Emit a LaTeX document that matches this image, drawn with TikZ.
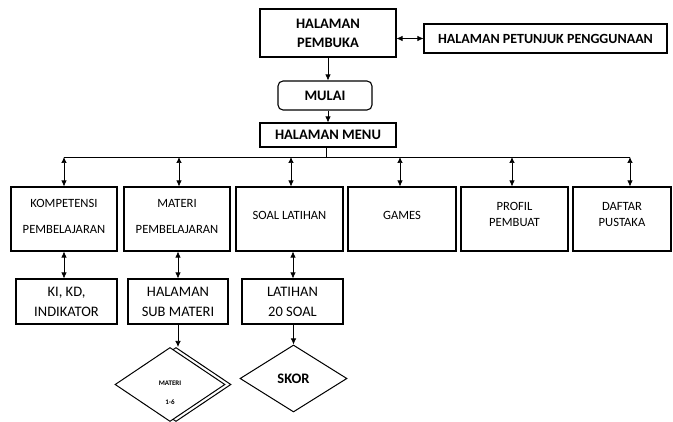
\documentclass[tikz,border=0pt]{standalone}
\usepackage{fontspec}
\setmainfont{Carlito}
\usetikzlibrary{arrows.meta,shapes.geometric}
\tikzset{
  box/.style={draw,line width=1.1pt,inner sep=0pt,align=center},
  topfont/.style={font=\fontsize{14.5}{19}\selectfont\bfseries},
  midfont/.style={font=\fontsize{12.6}{26}\selectfont},
  midfonttight/.style={font=\fontsize{12.6}{16}\selectfont},
  lowfont/.style={font=\fontsize{14.5}{20}\selectfont},
  conn/.style={line width=0.7pt,-{Latex[length=6pt,width=5.5pt]}},
  dconn/.style={line width=0.7pt,{Latex[length=6pt,width=5.5pt]}-{Latex[length=6pt,width=5.5pt]}},
  dia/.style={draw,line width=1pt,diamond,inner sep=0pt,aspect=1.5,align=center}
}
\begin{document}
\begin{tikzpicture}[x=1pt,y=-1pt]
\useasboundingbox (0,0) rectangle (673,422);
% top level
\node[box,topfont,minimum width=136pt,minimum height=48pt] (pembuka) at (328,33) {HALAMAN\\PEMBUKA};
\node[box,font=\fontsize{14}{19}\selectfont\bfseries,minimum width=243pt,minimum height=29pt] (petunjuk) at (545.5,38.5) {HALAMAN PETUNJUK PENGGUNAAN};
\node[box,topfont,rounded corners=5pt,minimum width=94pt,minimum height=29pt] (mulai) at (325,95.5) {MULAI};
\node[box,topfont,minimum width=136pt,minimum height=24pt] (menu) at (328,135) {HALAMAN MENU};
% level 2
\node[box,midfont,minimum width=106pt,minimum height=64pt,text depth=5pt] (k1) at (64,219) {KOMPETENSI\\PEMBELAJARAN};
\node[box,midfont,minimum width=106pt,minimum height=64pt,text depth=5pt] (k2) at (177,219) {MATERI\\PEMBELAJARAN};
\node[box,midfont,minimum width=107pt,minimum height=64pt,text depth=8pt] (k3) at (289.5,219) {SOAL LATIHAN};
\node[box,midfont,minimum width=108pt,minimum height=64pt,text depth=8pt] (k4) at (402,219) {GAMES};
\node[box,midfonttight,minimum width=107pt,minimum height=64pt,text depth=10pt] (k5) at (514.5,219) {PROFIL\\PEMBUAT};
\node[box,midfonttight,minimum width=98pt,minimum height=64pt,text depth=10pt] (k6) at (622,219) {DAFTAR\\PUSTAKA};
% level 3
\node[box,lowfont,minimum width=101pt,minimum height=45pt] (l1) at (66.5,301.5) {KI, KD,\\INDIKATOR};
\node[box,lowfont,minimum width=100pt,minimum height=45pt] (l2) at (178,301.5) {HALAMAN\\SUB MATERI};
\node[box,lowfont,minimum width=101pt,minimum height=45pt] (l3) at (292.5,301.5) {LATIHAN\\20 SOAL};
% diamonds
\node[dia,minimum width=110pt,minimum height=74pt] (d1b) at (176,384.5) {};
\node[dia,fill=white,minimum width=110pt,minimum height=74pt,font=\fontsize{7}{16}\selectfont\bfseries] (d1) at (170,384.5) {\parbox[c][40pt][b]{30pt}{\centering MATERI\\[3pt]1-6}};
\node[dia,minimum width=107pt,minimum height=67pt,font=\fontsize{14.5}{16}\selectfont\bfseries] (d2) at (293.5,378.5) {SKOR};
% connectors top
\draw[dconn] (pembuka.east |- petunjuk.west) -- (petunjuk.west);
\draw[conn] (pembuka.south) -- (pembuka.south |- mulai.north);
\draw[conn] (mulai.south -| menu.north) -- (menu.north);
% bus
\coordinate (bus) at (326,157);
\coordinate (b1) at (64,157);
\coordinate (b2) at (179,157);
\coordinate (b3) at (291,157);
\coordinate (b4) at (400,157);
\coordinate (b5) at (512,157);
\coordinate (b6) at (630,157);
\draw[line width=0.7pt] (menu.south -| bus) -- (bus);
\draw[line width=0.7pt] (b1) -- (b6);
\foreach \i in {1,...,6}{
  \draw[dconn] (b\i) -- (b\i |- k\i.north);
}
% level 2 to 3
\coordinate (c1) at (64,0);
\coordinate (c2) at (178,0);
\coordinate (c3) at (293,0);
\foreach \i in {1,2,3}{
  \draw[dconn] (c\i |- k\i.south) -- (c\i |- l\i.north);
}
% level 3 to diamonds
\draw[conn] (l2.south) -- (l2.south |- d1.north);
\draw[conn] (l3.south -| d2.north) -- (d2.north);
\end{tikzpicture}
\end{document}
